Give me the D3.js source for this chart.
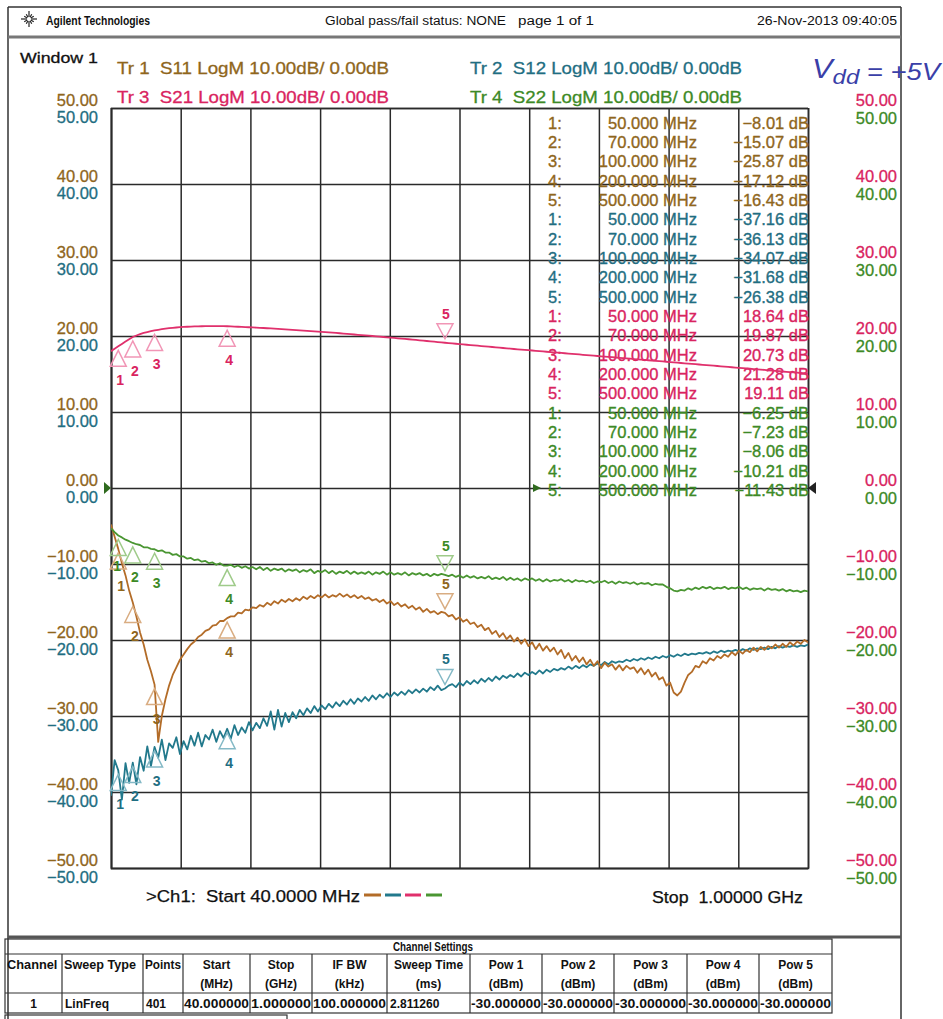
<!DOCTYPE html>
<html><head><meta charset="utf-8">
<script src="https://cdn.jsdelivr.net/npm/d3@7"></script>
<style>
body{margin:0;background:#fff;}
svg text{font-family:"Liberation Sans",Arial,sans-serif;}
</style></head>
<body><svg id="c" width="943" height="1019"></svg>
<script>
// ---------------- DATA ----------------
const START_MHZ = 40, STOP_MHZ = 1000, STEP_MHZ = 5;
const freqMHz = d3.range(START_MHZ, STOP_MHZ + 1, STEP_MHZ); // sweep frequencies (MHz)

// Tr 1  S11 (dB)
const s11 = [
 -4.8,-6.4,-8.01,-9.9,-11.5,-13.5,-15.07,-16.9,-19.0,-20.6,
 -22.6,-24.1,-25.87,-33.4,-30.0,-27.8,-26.0,-24.6,-23.6,-22.6,
 -21.9,-21.2,-20.6,-20.2,-19.6,-19.3,-18.8,-18.6,-18.1,-18.0,
 -17.5,-17.5,-17.12,-16.9,-16.9,-16.4,-16.5,-16.0,-16.1,-15.7,
 -15.8,-15.4,-15.6,-15.1,-15.4,-14.9,-15.2,-14.7,-15.0,-14.6,
 -14.9,-14.5,-14.8,-14.3,-14.6,-14.2,-14.5,-14.1,-14.4,-14.0,
 -14.4,-14.1,-14.3,-13.9,-14.3,-14.0,-14.4,-14.1,-14.5,-14.2,
 -14.6,-14.4,-14.8,-14.6,-15.0,-14.7,-15.2,-14.9,-15.4,-15.1,
 -15.6,-15.3,-15.8,-15.5,-16.0,-15.7,-16.3,-15.9,-16.4,-16.2,
 -16.6,-16.3,-16.43,-16.9,-16.7,-17.3,-17.0,-17.6,-17.3,-17.9,
 -17.7,-18.3,-18.0,-18.7,-18.4,-19.2,-18.8,-19.6,-19.1,-19.9,
 -19.4,-20.2,-19.7,-20.5,-19.9,-20.8,-20.3,-21.2,-20.5,-21.4,
 -20.8,-21.5,-21.0,-21.9,-21.3,-22.4,-21.7,-22.7,-22.1,-22.9,
 -22.3,-23.2,-22.6,-23.4,-22.8,-23.7,-23.0,-23.5,-23.2,-23.9,
 -23.3,-24.0,-23.4,-23.8,-23.6,-24.3,-23.7,-24.5,-23.9,-24.8,
 -24.3,-25.2,-24.9,-26.0,-25.6,-26.9,-27.3,-26.8,-25.6,-24.6,
 -24.2,-23.4,-23.6,-22.8,-23.1,-22.4,-22.7,-22.1,-22.4,-21.9,
 -22.2,-21.6,-22.0,-21.4,-21.8,-21.3,-21.6,-21.0,-21.5,-20.9,
 -21.3,-20.8,-21.1,-20.6,-21.0,-20.5,-20.9,-20.3,-20.7,-20.2,
 -20.5,-20.0,-20.3
];
// Tr 2  S12 (dB)
const s12 = [
 -40.5,-35.8,-37.16,-41.0,-36.2,-38.8,-36.13,-39.0,-35.4,-37.2,
 -34.0,-36.6,-34.07,-35.5,-33.1,-35.8,-33.6,-34.2,-32.8,-35.0,
 -33.3,-34.4,-32.6,-33.9,-32.2,-34.0,-32.5,-33.1,-31.8,-33.4,
 -32.0,-32.9,-31.68,-33.0,-31.2,-32.5,-31.5,-32.2,-30.8,-31.9,
 -30.9,-31.6,-30.3,-31.3,-29.4,-31.8,-29.2,-31.4,-29.6,-30.8,
 -29.5,-30.3,-29.2,-29.9,-29.0,-29.6,-28.7,-29.4,-28.6,-29.1,
 -28.4,-28.9,-28.2,-28.7,-28.0,-28.5,-27.8,-28.4,-27.7,-28.1,
 -27.5,-28.0,-27.3,-27.8,-27.2,-27.6,-27.0,-27.5,-26.9,-27.3,
 -26.8,-27.2,-26.6,-27.0,-26.5,-26.9,-26.4,-26.8,-26.2,-26.6,
 -26.0,-26.6,-26.38,-26.0,-25.8,-26.2,-25.6,-26.0,-25.4,-25.8,
 -25.3,-25.7,-25.1,-25.5,-25.0,-25.4,-24.8,-25.2,-24.7,-25.0,
 -24.6,-24.9,-24.4,-24.8,-24.3,-24.6,-24.2,-24.5,-24.0,-24.4,
 -23.9,-24.2,-23.8,-24.0,-23.7,-23.9,-23.5,-23.8,-23.4,-23.7,
 -23.3,-23.6,-23.2,-23.4,-23.1,-23.3,-22.9,-23.2,-22.8,-23.0,
 -22.8,-22.9,-22.6,-22.8,-22.5,-22.7,-22.4,-22.6,-22.3,-22.5,
 -22.2,-22.4,-22.1,-22.3,-22.0,-22.2,-21.9,-22.1,-21.8,-22.0,
 -21.8,-21.9,-21.7,-21.8,-21.6,-21.8,-21.5,-21.7,-21.4,-21.6,
 -21.4,-21.5,-21.3,-21.5,-21.2,-21.4,-21.1,-21.3,-21.1,-21.2,
 -21.0,-21.2,-20.9,-21.1,-20.8,-21.0,-20.8,-20.9,-20.7,-20.9,
 -20.7,-20.8,-20.6
];
// Tr 3  S21 (dB)
const s21 = [
 18.00,18.32,18.64,18.96,19.28,19.58,19.87,20.07,20.25,20.40,
 20.52,20.63,20.73,20.82,20.90,20.97,21.03,21.08,21.12,21.16,
 21.19,21.22,21.24,21.26,21.27,21.28,21.29,21.30,21.30,21.30,
 21.29,21.29,21.28,21.26,21.24,21.22,21.20,21.18,21.15,21.13,
 21.10,21.08,21.05,21.02,20.99,20.96,20.93,20.90,20.87,20.84,
 20.81,20.78,20.75,20.72,20.68,20.65,20.61,20.58,20.54,20.51,
 20.47,20.44,20.40,20.36,20.32,20.28,20.24,20.20,20.16,20.12,
 20.08,20.04,20.00,19.96,19.92,19.87,19.83,19.79,19.74,19.70,
 19.66,19.61,19.57,19.52,19.48,19.43,19.39,19.34,19.29,19.25,
 19.20,19.16,19.11,19.07,19.02,18.98,18.94,18.89,18.85,18.81,
 18.77,18.72,18.68,18.64,18.59,18.55,18.51,18.46,18.42,18.38,
 18.34,18.29,18.25,18.21,18.17,18.13,18.09,18.05,18.01,17.97,
 17.93,17.89,17.85,17.81,17.77,17.73,17.69,17.65,17.61,17.57,
 17.53,17.49,17.45,17.41,17.37,17.33,17.29,17.25,17.21,17.17,
 17.13,17.09,17.05,17.01,16.97,16.93,16.89,16.85,16.81,16.77,
 16.73,16.69,16.65,16.61,16.57,16.53,16.49,16.45,16.41,16.37,
 16.33,16.29,16.25,16.21,16.17,16.13,16.09,16.05,16.01,15.97,
 15.93,15.89,15.85,15.81,15.77,15.73,15.69,15.65,15.61,15.57,
 15.53,15.49,15.45,15.41,15.37,15.33,15.29,15.25,15.21,15.17,
 15.13,15.09,15.05
];
// Tr 4  S22 (dB)
const s22 = [
 -5.3,-5.8,-6.25,-6.5,-6.8,-7.0,-7.23,-7.4,-7.5,-7.8,
 -7.8,-8.0,-8.06,-8.3,-8.2,-8.5,-8.5,-8.8,-8.7,-9.0,
 -9.0,-9.3,-9.2,-9.5,-9.4,-9.7,-9.6,-9.9,-9.8,-10.1,
 -9.9,-10.2,-10.21,-10.1,-10.4,-10.2,-10.5,-10.3,-10.6,-10.4,
 -10.7,-10.4,-10.8,-10.5,-10.9,-10.6,-10.8,-10.6,-11.0,-10.7,
 -10.9,-10.7,-11.1,-10.8,-11.0,-10.7,-11.2,-10.9,-11.1,-10.8,
 -11.2,-10.9,-11.3,-11.0,-11.2,-10.9,-11.3,-11.0,-11.3,-11.1,
 -11.3,-11.0,-11.4,-11.1,-11.3,-11.0,-11.4,-11.1,-11.4,-11.2,
 -11.4,-11.1,-11.5,-11.2,-11.4,-11.2,-11.5,-11.3,-11.6,-11.3,
 -11.5,-11.3,-11.43,-11.6,-11.4,-11.7,-11.5,-11.8,-11.5,-11.8,
 -11.6,-11.9,-11.7,-11.9,-11.6,-12.0,-11.8,-12.0,-11.7,-12.1,
 -11.8,-12.1,-11.9,-12.2,-11.9,-12.1,-11.9,-12.2,-12.0,-12.3,
 -12.0,-12.3,-12.1,-12.2,-12.0,-12.3,-12.1,-12.4,-12.1,-12.3,
 -12.2,-12.4,-12.2,-12.5,-12.3,-12.4,-12.2,-12.5,-12.3,-12.6,
 -12.3,-12.5,-12.4,-12.6,-12.4,-12.7,-12.5,-12.6,-12.5,-12.8,
 -12.6,-12.7,-12.7,-13.0,-13.2,-13.5,-13.6,-13.4,-13.5,-13.2,
 -13.4,-13.1,-13.3,-13.0,-13.2,-13.0,-13.3,-13.1,-13.2,-13.0,
 -13.3,-13.1,-13.2,-13.0,-13.3,-13.1,-13.4,-13.2,-13.3,-13.2,
 -13.5,-13.2,-13.4,-13.3,-13.5,-13.3,-13.6,-13.4,-13.6,-13.5,
 -13.7,-13.5,-13.6
];

const markerFreqs = [50, 70, 100, 200, 500];
const markerNames = ["1", "2", "3", "4", "5"];
const s11Markers = [-8.01, -15.07, -25.87, -17.12, -16.43];
const s12Markers = [-37.16, -36.13, -34.07, -31.68, -26.38];
const s21Markers = [18.64, 19.87, 20.73, 21.28, 19.11];
const s22Markers = [-6.25, -7.23, -8.06, -10.21, -11.43];

const yTicks = [50, 40, 30, 20, 10, 0, -10, -20, -30, -40, -50];
const xGridTicks = [40, 136, 232, 328, 424, 520, 616, 712, 808, 904, 1000];

const traceLabels = ["Tr 1  S11 LogM 10.00dB/ 0.00dB", "Tr 2  S12 LogM 10.00dB/ 0.00dB",
                     "Tr 3  S21 LogM 10.00dB/ 0.00dB", "Tr 4  S22 LogM 10.00dB/ 0.00dB"];
const headerTexts = ["Agilent Technologies", "Global pass/fail status: NONE", "page 1 of 1", "26-Nov-2013  09:40:05"];
const settingsHeaders = [["Channel"],["Sweep Type"],["Points"],["Start","(MHz)"],["Stop","(GHz)"],["IF BW","(kHz)"],
  ["Sweep Time","(ms)"],["Pow 1","(dBm)"],["Pow 2","(dBm)"],["Pow 3","(dBm)"],["Pow 4","(dBm)"],["Pow 5","(dBm)"]];
const settingsValues = ["1","LinFreq","401","40.000000","1.000000","100.000000","2.811260",
  "-30.000000","-30.000000","-30.000000","-30.000000","-30.000000"];

// ---------------- STYLE / LAYOUT ----------------
const styles = [
  {line:"#b36c28", text:"#8f661c", light:"#d9ad82"},  // S11
  {line:"#22798c", text:"#1f6e82", light:"#84b9c6"},  // S12
  {line:"#e0306c", text:"#d9245f", light:"#f196b6"},  // S21
  {line:"#4a9632", text:"#3d8a26", light:"#9fcb8a"}   // S22
];
const traces = [s11, s12, s21, s22].map((v,i)=>({
  values: v, markers: [s11Markers,s12Markers,s21Markers,s22Markers][i], style: styles[i]
}));
// small label nudges where marker numbers pile up (trace index, marker index) -> [dx, dy]
const numberNudge = {"0-0":[1,3], "3-0":[-3,-3]};

const svg = d3.select("#c");
const L = 111, R = 808, T = 108, B = 868;
const x = d3.scaleLinear().domain([START_MHZ, STOP_MHZ]).range([L, R]);
const y = d3.scaleLinear().domain([-50, 50]).range([B, T]);

// page frame
const frame = svg.append("g").attr("stroke","#333").attr("fill","none");
frame.append("line").attr("x1",8).attr("x2",901).attr("y1",7).attr("y2",7).attr("stroke-width",1.5);
frame.append("line").attr("x1",8).attr("x2",8).attr("y1",7).attr("y2",1019).attr("stroke-width",1.5);
frame.append("line").attr("x1",901).attr("x2",901).attr("y1",7).attr("y2",1019).attr("stroke-width",1.5);
frame.append("line").attr("x1",8).attr("x2",901).attr("y1",37).attr("y2",37).attr("stroke","#777").attr("stroke-width",3);
frame.append("line").attr("x1",8).attr("x2",901).attr("y1",937).attr("y2",937).attr("stroke","#555").attr("stroke-width",3);

// header
const logo = svg.append("g").attr("transform","translate(29,19)").attr("stroke","#222").attr("stroke-width",1.2);
d3.range(12).forEach(k=>{
  const a = k*Math.PI/6, r0 = 2, r1 = (k%3===0)?8:5.5;
  logo.append("line").attr("x1",r0*Math.cos(a)).attr("y1",r0*Math.sin(a)).attr("x2",r1*Math.cos(a)).attr("y2",r1*Math.sin(a));
});
const hdrPos = [[46,104,true],[325,181,false],[518,76,false],[757,140,false]];
headerTexts.forEach((t,i)=>{
  svg.append("text").attr("x",hdrPos[i][0]).attr("y",25).attr("font-size",12)
    .attr("font-weight",hdrPos[i][2]?"bold":"normal").attr("fill","#111")
    .attr("textLength",hdrPos[i][1]).attr("lengthAdjust","spacingAndGlyphs").text(t);
});

svg.append("text").attr("x",20).attr("y",63).attr("font-size",15).attr("fill","#111")
  .attr("stroke","#111").attr("stroke-width",0.3)
  .attr("textLength",78).attr("lengthAdjust","spacingAndGlyphs").text("Window 1");

const trPos = [[117,74],[470,74],[117,103],[470,103]];
traceLabels.forEach((t,i)=>{
  svg.append("text").attr("x",trPos[i][0]).attr("y",trPos[i][1]).attr("font-size",17)
    .attr("fill",styles[i].text).attr("stroke",styles[i].text).attr("stroke-width",0.3)
    .attr("textLength",272).attr("lengthAdjust","spacingAndGlyphs")
    .attr("xml:space","preserve").text(t);
});

// handwritten note
const hw = svg.append("text").attr("x",812).attr("y",78).attr("fill","#3a3fa8")
  .attr("font-family","DejaVu Sans").attr("font-style","italic").attr("font-size",27)
  .attr("textLength",128).attr("lengthAdjust","spacingAndGlyphs");
hw.append("tspan").text("V");
hw.append("tspan").attr("dy",6).attr("font-size",21).text("dd");
hw.append("tspan").attr("dy",-4).attr("font-size",24).text(" = +5V");

// grid via axes
const gx = svg.append("g").attr("transform",`translate(0,${B})`)
  .call(d3.axisBottom(x).tickValues(xGridTicks).tickSize(-(B-T)).tickFormat(""));
const gy = svg.append("g").attr("transform",`translate(${L},0)`)
  .call(d3.axisLeft(y).tickValues(yTicks).tickSize(-(R-L)).tickFormat(""));
[gx,gy].forEach(g=>{
  g.select(".domain").attr("stroke","#2a2a2a").attr("stroke-width",1.6);
  g.selectAll(".tick line").attr("stroke","#2a2a2a").attr("stroke-width",1.5);
});

// axis labels (4 colour columns)
function labelAxis(xPos, dy, color){
  const g = svg.append("g").attr("transform",`translate(${xPos},0)`)
    .call(d3.axisLeft(y).tickValues(yTicks).tickSize(0).tickPadding(0).tickFormat(d3.format(".2f")));
  g.select(".domain").remove();
  g.selectAll("text").attr("font-size",16.5).attr("font-family","Liberation Sans, Arial, sans-serif")
    .attr("fill",color).attr("stroke",color).attr("stroke-width",0.3).attr("y",dy).attr("dy","0.35em");
}
labelAxis(98, -8, styles[0].text);
labelAxis(98, 9, styles[1].text);
labelAxis(897, -8, styles[2].text);
labelAxis(897, 10, styles[3].text);

// reference level arrows at 0 dB
svg.append("path").attr("d",`M${L-7},${y(0)-6}L${L},${y(0)}L${L-7},${y(0)+6}Z`).attr("fill","#2f6a1e");
svg.append("path").attr("d",`M${R+8},${y(0)-6}L${R},${y(0)}L${R+8},${y(0)+6}Z`).attr("fill","#222");

// marker readout table
const fmtF = d3.format(".3f"), fmtV = d3.format(".2f");
const tbl = svg.append("g");
traces.forEach((tr,ti)=>{
  tr.markers.forEach((v,mi)=>{
    const k = ti*5+mi, yy = 123 + 19.32*k;
    const g = tbl.append("g").attr("fill",tr.style.text).attr("stroke",tr.style.text)
      .attr("stroke-width",0.35).attr("font-size",16.5);
    g.append("text").attr("x",548).attr("y",yy).attr("dy","0.35em").text(markerNames[mi]+":");
    g.append("text").attr("x",697).attr("y",yy).attr("dy","0.35em").attr("text-anchor","end")
      .text(fmtF(markerFreqs[mi])+" MHz");
    g.append("text").attr("x",809).attr("y",yy).attr("dy","0.35em").attr("text-anchor","end")
      .text(fmtV(v)+" dB");
  });
});
svg.append("path").attr("d",`M533,${y(0)-4}L541,${y(0)}L533,${y(0)+4}Z`).attr("fill","#2f6a1e");

// traces
svg.append("clipPath").attr("id","plotclip").append("rect")
  .attr("x",L).attr("y",T).attr("width",R-L).attr("height",B-T);
const line = d3.line().x(d=>x(d[0])).y(d=>y(d[1]));
const drawOrder = [1,0,3,2];
drawOrder.forEach(i=>{
  const tr = traces[i];
  svg.append("path").attr("clip-path","url(#plotclip)")
    .attr("d", line(freqMHz.map((f,j)=>[f, tr.values[j]])))
    .attr("fill","none").attr("stroke",tr.style.line).attr("stroke-width",1.8)
    .attr("stroke-linejoin","round");
});

// markers
traces.forEach((tr,ti)=>{
  tr.markers.forEach((v,mi)=>{
    const mx = x(markerFreqs[mi]), my = y(v);
    const nd = numberNudge[ti+"-"+mi] || [0,0];
    const g = svg.append("g");
    const up = mi < 4;
    const tri = up ? `M${mx},${my+4}L${mx-8},${my+20}L${mx+8},${my+20}Z`
                   : `M${mx},${my-4}L${mx-8},${my-19}L${mx+8},${my-19}Z`;
    g.append("path").attr("d",tri)
      .attr("fill","none").attr("stroke",tr.style.light).attr("stroke-width",1.5);
    g.append("text").attr("x",mx+(up?2:1)+nd[0]).attr("y",my+(up?34:-29)+nd[1]).attr("dy","0.35em")
      .attr("text-anchor","middle").attr("font-size",14).attr("font-weight","bold")
      .attr("fill",tr.style.text).text(markerNames[mi]);
  });
});

// bottom annotation
svg.append("text").attr("x",146).attr("y",902).attr("font-size",16).attr("fill","#111")
  .attr("stroke","#111").attr("stroke-width",0.25)
  .attr("textLength",214).attr("lengthAdjust","spacingAndGlyphs").attr("xml:space","preserve")
  .text(">Ch1:  Start 40.0000 MHz");
[[364,381],[385,401],[405,421],[426,442]].forEach((p,i)=>{
  svg.append("line").attr("x1",p[0]).attr("x2",p[1]).attr("y1",895).attr("y2",895)
    .attr("stroke",styles[i].line).attr("stroke-width",3);
});
svg.append("text").attr("x",652).attr("y",903).attr("font-size",16).attr("fill","#111")
  .attr("stroke","#111").attr("stroke-width",0.25)
  .attr("textLength",151).attr("lengthAdjust","spacingAndGlyphs").attr("xml:space","preserve")
  .text("Stop  1.00000 GHz");

// channel settings table
const colX = [5,62,143,183,250,312,387,470,542,614,687,759,832];
const st = svg.append("g").attr("stroke","#333").attr("stroke-width",1.2);
st.append("rect").attr("x",5).attr("y",939).attr("width",827).attr("height",74).attr("fill","none");
st.append("line").attr("x1",5).attr("x2",832).attr("y1",954).attr("y2",954);
st.append("line").attr("x1",5).attr("x2",832).attr("y1",993).attr("y2",993);
colX.slice(1,-1).forEach(cx=>st.append("line").attr("x1",cx).attr("x2",cx).attr("y1",954).attr("y2",1013));
svg.append("text").attr("x",433).attr("y",951).attr("text-anchor","middle").attr("font-size",12)
  .attr("font-weight","bold").attr("fill","#111").attr("textLength",80).attr("lengthAdjust","spacingAndGlyphs")
  .text("Channel Settings");
settingsHeaders.forEach((h,i)=>{
  const x0 = colX[i], x1 = colX[i+1];
  if (h.length === 1) {
    svg.append("text").attr("x",x0+2).attr("y",969).attr("font-size",12).attr("font-weight","bold")
      .attr("fill","#111").attr("textLength",Math.min(x1-x0-4, h[0].length*7.2))
      .attr("lengthAdjust","spacingAndGlyphs").text(h[0]);
  } else {
    h.forEach((t,k)=>{
      svg.append("text").attr("x",(x0+x1)/2).attr("y",969+k*19).attr("text-anchor","middle")
        .attr("font-size",12).attr("font-weight","bold").attr("fill","#111").text(t);
    });
  }
  const v = settingsValues[i];
  const tv = svg.append("text").attr("y",1008).attr("font-size",12).attr("font-weight","bold").attr("fill","#111");
  if (i === 0) tv.attr("x",(x0+x1)/2).attr("text-anchor","middle").text(v);
  else if (i < 3 || i === 6) tv.attr("x",x0+3).text(v);
  else tv.attr("x",x0+1).attr("textLength",x1-x0-2).attr("lengthAdjust","spacingAndGlyphs").text(v);
});
// partial trace-settings box at very bottom
st.append("rect").attr("x",5).attr("y",1015).attr("width",282).attr("height",20).attr("fill","none");
</script>
</body></html>
